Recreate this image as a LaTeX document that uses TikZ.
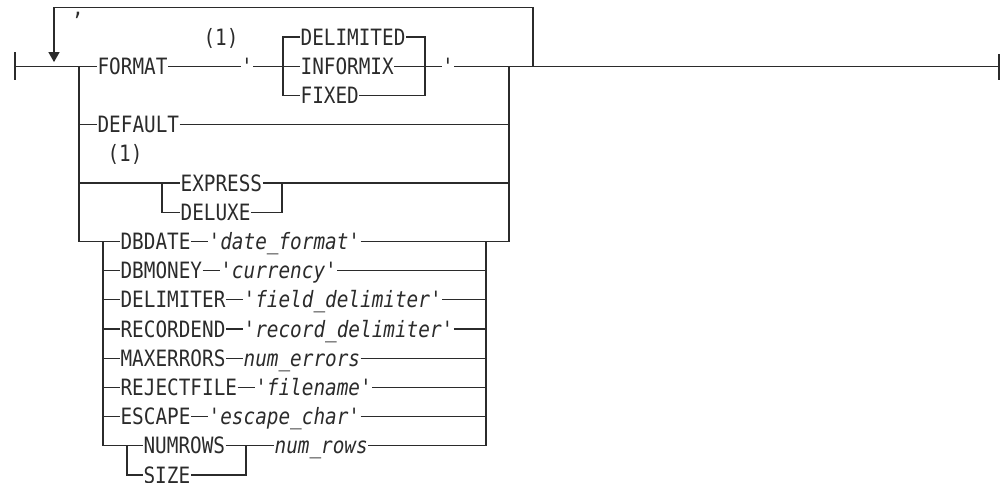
\documentclass[tikz,border=0pt]{standalone}
\usepackage{fontspec}
\setmonofont[FakeStretch=0.86,ItalicFont={* Oblique}]{DejaVu Sans Mono}
\usetikzlibrary{arrows.meta}
\definecolor{railink}{HTML}{2B2B2B}

\begin{document}
\begin{tikzpicture}[x=1pt,y=-29.2pt,line width=1.2pt,draw=railink,text=railink,
    kw/.style={anchor=west,inner sep=0pt,text height=16.2pt,text depth=0pt,
      font=\ttfamily\fontsize{22.5pt}{25pt}\selectfont},
    var/.style={kw,font=\ttfamily\itshape\fontsize{22.5pt}{25pt}\selectfont},
    mark1/.style={kw,anchor=center}]
  \useasboundingbox (0,-1.267) rectangle (1002,15.274);
  % junctions of the main line
  \coordinate (start) at (15,1);
  \coordinate (stop) at (999,1);
  \coordinate (jL) at (79,1);
  \coordinate (jR) at (509,1);
  \coordinate (lp) at (533,1);
  \coordinate (jLo) at (79,7);
  \coordinate (jLi) at (103,7);
  \coordinate (jRi) at (486,7);
  \coordinate (jRo) at (509,7);
  \draw (15,0.52) -- (15,1.48);
  \draw (999,0.58) -- (999,1.48);
  \draw (start) -- (jL);
  \draw (jR) -- (stop);
  % repeat loop
  \node[kw,anchor=base,text height=4pt,text depth=5pt] (sep) at (78,-0.72) {,};
  \draw[-{Triangle[width=11pt,length=10pt]}] (lp) |- (54,-1) -- (54,0.86);
  % FORMAT
  \node[kw] (format) at (97,1) {FORMAT};
  \node[mark1] (note1) at (221,0) {(1)};
  \node[mark1] (q1) at (247,1) {'};
  \node[kw] (delim) at (300,0) {DELIMITED};
  \node[kw] (informix) at (300,1) {INFORMIX};
  \node[kw] (fixed) at (300,2) {FIXED};
  \node[mark1] (q2) at (448,1) {'};
  \coordinate (dl) at (283,1);
  \coordinate (dr) at (425,1);
  \draw (jL) -- (format.west);
  \draw (format.east) -- (q1.west);
  \draw (q1.east) -- (informix.west);
  \draw (delim.west) -| (dl) |- (fixed.west);
  \draw (delim.east) -| (dr) |- (fixed.east);
  \draw (informix.east) -- (q2.west);
  \draw (q2.east) -- (jR);
  % DEFAULT
  \node[kw] (default) at (97,3) {DEFAULT};
  \draw (default.west -| jL) -- (default.west);
  \draw (default.east) -- (default.east -| jR);
  % EXPRESS / DELUXE
  \node[mark1] (note2) at (125,4) {(1)};
  \node[kw] (express) at (180,5) {EXPRESS};
  \node[kw] (deluxe) at (180,6) {DELUXE};
  \coordinate (el) at (162,5);
  \coordinate (er) at (282,5);
  \draw (express.west -| jL) -- (express.west);
  \draw (el) |- (deluxe.west);
  \draw (express.east) -- (express.east -| jR);
  \draw (er) |- (deluxe.east);
  % outer frame of the option list
  \draw (jL) -- (jLo) -- (jLi);
  \draw (jR) -- (jRo) -- (jRi);
  % keyword with value
  \foreach \k/\v [count=\r from 7] in {DBDATE/'date\_format',
      DBMONEY/'currency', DELIMITER/'field\_delimiter',
      RECORDEND/'record\_delimiter', MAXERRORS/num\_errors,
      REJECTFILE/'filename', ESCAPE/'escape\_char'}{
    \node[kw] (k\r) at (120,\r) {\k};
    \node[var] (v\r) at ([xshift=17pt]k\r.east) {\v};
    \draw (k\r.west -| jLi) -- (k\r.west);
    \draw (k\r.east) -- (v\r.west);
    \draw (v\r.east) -- (v\r.east -| jRi);
  }
  % NUMROWS / SIZE
  \node[kw] (numrows) at (143,14) {NUMROWS};
  \node[kw] (size) at (143,15) {SIZE};
  \node[var] (nrows) at (274,14) {num\_rows};
  \coordinate (nl) at (127,14);
  \coordinate (nr) at (246,14);
  \draw (jLi) -- (jLi |- nl) -- (numrows.west);
  \draw (nl) |- (size.west);
  \draw (numrows.east) -- (nrows.west);
  \draw (size.east) -| (nr);
  \draw (nrows.east) -- (nrows.east -| jRi) -- (jRi);
\end{tikzpicture}
\end{document}
